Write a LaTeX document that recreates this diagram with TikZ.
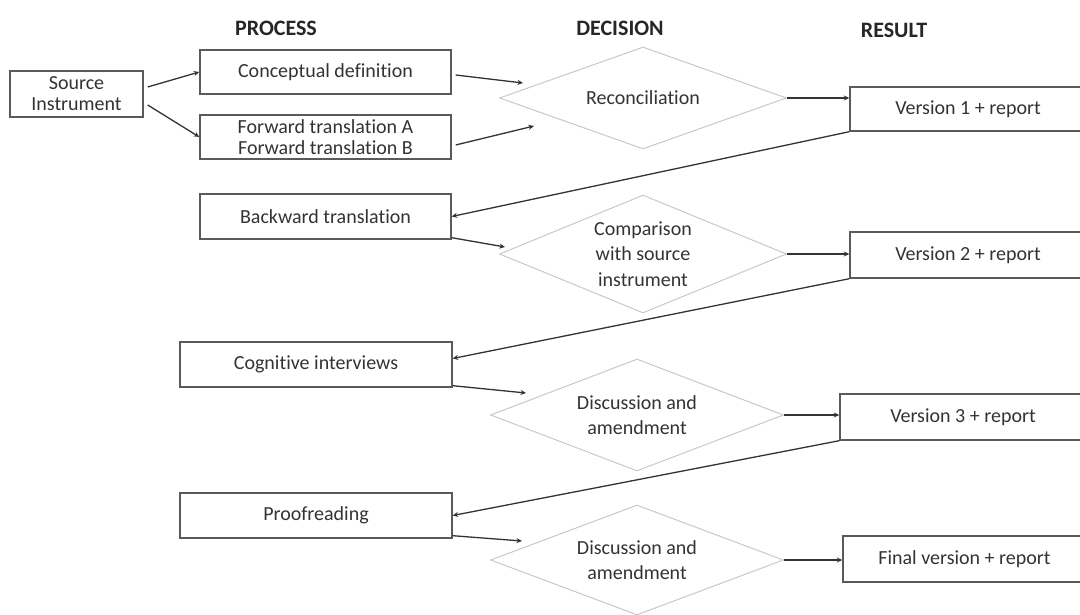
\documentclass[tikz,border=0pt]{standalone}
\usepackage{fontspec}
\setmainfont{Carlito}[Ligatures=CommonOff]
\usetikzlibrary{shapes.geometric,arrows.meta}

\definecolor{txtgray}{HTML}{333333}
\definecolor{boxgray}{HTML}{5A5A5A}
\definecolor{diagray}{HTML}{C8C8C8}

\tikzset{
  box/.style={rectangle, draw=boxgray, line width=1.4pt, minimum height=45pt, inner sep=0pt,
    text=txtgray, align=center, font=\fontsize{20}{21}\selectfont},
  dec/.style={diamond, draw=diagray, line width=1pt, aspect=2.6, inner sep=0pt,
    text=txtgray, align=center, font=\fontsize{20}{25.5}\selectfont},
  head/.style={text=black!85, font=\fontsize{22}{24}\selectfont\bfseries},
  arr/.style={draw=txtgray, line width=1.3pt, -{Stealth[length=5.5pt,width=5pt]}},
}

\begin{document}
\begin{tikzpicture}[x=1pt, y=-1pt]
\useasboundingbox (0, 0) rectangle (1080, 615);

\node[head] (hproc) at (276, 28) {PROCESS};
\node[head] (hdec) at (620, 28) {DECISION};
\node[head] (hres) at (894, 30) {RESULT};

\node[box, minimum width=133pt, minimum height=46pt] (src) at (76.5, 94) {Source\\Instrument};
\node[box, minimum width=251pt, minimum height=44pt] (concept) at (325.5, 72) {Conceptual definition};
\node[box, minimum width=251pt, minimum height=44pt] (fwd) at (325.5, 137) {Forward translation A\\Forward translation B};
\node[dec, minimum width=287pt, minimum height=102pt] (recon) at (643, 98) {Reconciliation};
\node[box, minimum width=236pt, minimum height=44pt] (v1) at (968, 109) {Version 1 + report};

\node[box, minimum width=251pt] (back) at (325.5, 216.5) {Backward translation};
\node[dec, minimum width=287pt, minimum height=118pt] (comp) at (643, 254) {Comparison\\with source\\instrument};
\node[box, minimum width=236pt, minimum height=46pt] (v2) at (968, 255) {Version 2 + report};

\node[box, minimum width=272pt] (cog) at (316, 364.5) {Cognitive interviews};
\node[dec, minimum width=293pt, minimum height=112pt] (disc1) at (637, 415) {Discussion and\\amendment};
\node[box, minimum width=246pt, minimum height=46pt] (v3) at (963, 417) {Version 3 + report};

\node[box, minimum width=272pt] (proof) at (316, 515.5) {Proofreading};
\node[dec, minimum width=293pt, minimum height=110pt] (disc2) at (637, 560) {Discussion and\\amendment};
\node[box, minimum width=243pt, minimum height=46pt] (final) at (964.5, 559) {Final version + report};

\draw[arr] ([xshift=4pt, yshift=7pt]src.east) -- (concept.west);
\draw[arr] ([xshift=4pt, yshift=-11pt]src.east) -- (fwd.west);
\draw[arr] ([xshift=4pt, yshift=-3pt]concept.east) -- ([xshift=24pt, yshift=15pt]recon.west);
\draw[arr] ([xshift=4pt, yshift=-8pt]fwd.east) -- ([xshift=35pt, yshift=-28pt]recon.west);
\draw[arr] (recon.east) -- (recon.east -| v1.west);

\draw[arr] (v1.south west) -- (back.east);
\draw[arr] ([yshift=2pt]back.south east) -- ([xshift=6pt, yshift=7pt]comp.west);
\draw[arr] (comp.east) -- (comp.east -| v2.west);

\draw[arr] (v2.south west) -- ([yshift=6pt]cog.east);
\draw[arr] ([yshift=2pt]cog.south east) -- ([xshift=36pt, yshift=22pt]disc1.west);
\draw[arr] (disc1.east) -- (disc1.east -| v3.west);

\draw[arr] (v3.south west) -- (proof.east);
\draw[arr] ([yshift=3pt]proof.south east) -- ([xshift=32pt, yshift=19pt]disc2.west);
\draw[arr] (disc2.east) -- (disc2.east -| final.west);
\end{tikzpicture}
\end{document}
